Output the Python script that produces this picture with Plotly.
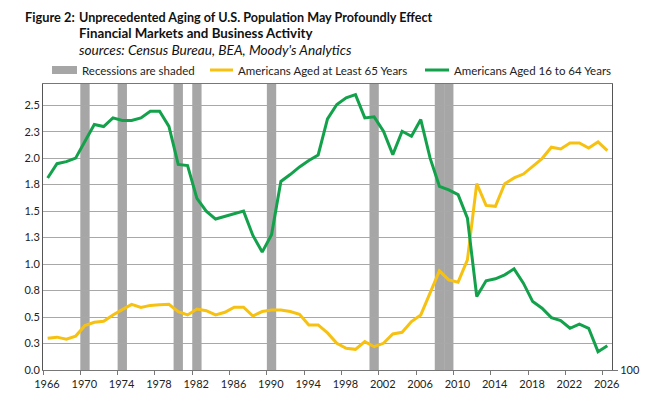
import plotly.graph_objects as go

years = list(range(1966, 2027))
age65 = [0.30, 0.31, 0.29, 0.32, 0.42, 0.45, 0.46, 0.52, 0.57, 0.62,
         0.59, 0.61, 0.615, 0.62, 0.55, 0.52, 0.575, 0.56, 0.52, 0.545,
         0.593, 0.593, 0.51, 0.552, 0.567, 0.567, 0.552, 0.526, 0.426, 0.426,
         0.35, 0.252, 0.205, 0.195, 0.268, 0.22, 0.252, 0.34, 0.356, 0.457,
         0.52, 0.725, 0.936, 0.851, 0.829, 1.04, 1.759, 1.554, 1.545, 1.759,
         1.813, 1.85, 1.923, 1.996, 2.103, 2.087, 2.144, 2.144, 2.096, 2.153,
         2.071]
age16_64 = [1.813, 1.948, 1.967, 2.0, 2.16, 2.317, 2.298, 2.38, 2.355, 2.355,
            2.38, 2.443, 2.443, 2.3, 1.94, 1.93, 1.62, 1.50, 1.425, 1.45,
            1.475, 1.50, 1.27, 1.113, 1.277, 1.78, 1.845, 1.917, 1.977, 2.03,
            2.37, 2.506, 2.57, 2.60, 2.38, 2.39, 2.254, 2.033, 2.254, 2.207,
            2.364, 2.0, 1.734, 1.70, 1.655, 1.434, 0.694, 0.842, 0.861, 0.898,
            0.955, 0.82, 0.646, 0.583, 0.495, 0.467, 0.394, 0.432, 0.394, 0.173,
            0.23]
recession_years = [1970, 1974, 1980, 1982, 1990, 2001, 2008, 2009]
ytick_vals = [0, 0.25, 0.5, 0.75, 1.0, 1.25, 1.5, 1.75, 2.0, 2.25, 2.5]
ytick_text = ["0.0", "0.3", "0.5", "0.8", "1.0", "1.3", "1.5", "1.8", "2.0", "2.3", "2.5"]
xtick_years = list(range(1966, 2027, 4))

FONT = "Lato"
GREEN = "#13a24b"
YELLOW = "#f7c112"
GRAY = "#a6a6a6"

W, H = 655, 409
ML, MR, MT, MB = 43, 43, 84, 39

xpos = [y + 0.5 for y in years]

fig = go.Figure()
for ry in recession_years:
    fig.add_vrect(x0=ry, x1=ry + 1, fillcolor=GRAY, line_width=0, layer="below", opacity=1)

fig.add_trace(go.Scatter(x=xpos, y=age65, mode="lines", line=dict(color=YELLOW, width=3),
                         name="Americans Aged at Least 65 Years", showlegend=False))
fig.add_trace(go.Scatter(x=xpos, y=age16_64, mode="lines", line=dict(color=GREEN, width=3),
                         name="Americans Aged 16 to 64 Years", showlegend=False))
fig.add_trace(go.Scatter(x=[None], y=[None], yaxis="y2", showlegend=False))

fig.update_layout(
    width=W, height=H,
    margin=dict(l=ML, r=MR, t=MT, b=MB, autoexpand=False),
    paper_bgcolor="white", plot_bgcolor="white",
    font=dict(family=FONT, size=11, color="#222"),
    xaxis=dict(range=[1966, 2027], tickvals=xtick_years, ticktext=[str(y) for y in xtick_years],
               ticks="outside", ticklen=4, tickcolor="#777", showgrid=False, ticklabelshift=4,
               showline=True, linecolor="#777", linewidth=1, mirror=True, zeroline=False),
    yaxis=dict(range=[0, 2.7], tickvals=ytick_vals, ticktext=ytick_text,
               showgrid=True, gridcolor="#a8a8a8", gridwidth=1.3, ticks="",
               showline=True, linecolor="#555", linewidth=1, mirror=True, zeroline=False),
    yaxis2=dict(range=[0, 2.7], overlaying="y", side="right", tickvals=[0], ticktext=["100"],
                ticks="outside", ticklen=5, tickcolor="#777", showgrid=False, zeroline=False,
                showline=False),
)

def px(xp):
    return (xp - ML) / (W - ML - MR)

def py(yp):
    return (H - MB - yp) / (H - MT - MB)

# Titles
fig.add_annotation(xref="paper", yref="paper", x=px(23), y=py(17), xanchor="left", yanchor="middle",
                   text="<b>Figure 2:</b>", showarrow=False, font=dict(size=12.8, family=FONT, color="#111"))
fig.add_annotation(xref="paper", yref="paper", x=px(77), y=py(17), xanchor="left", yanchor="middle",
                   text="<b>Unprecedented Aging of U.S. Population May Profoundly Effect</b>", showarrow=False,
                   font=dict(size=12.6, family=FONT, color="#111"))
fig.add_annotation(xref="paper", yref="paper", x=px(77), y=py(33.5), xanchor="left", yanchor="middle",
                   text="<b>Financial Markets and Business Activity</b>", showarrow=False,
                   font=dict(size=13.3, family=FONT, color="#111"))
fig.add_annotation(xref="paper", yref="paper", x=px(77), y=py(50), xanchor="left", yanchor="middle",
                   text="<i>sources: Census Bureau, BEA, Moody's Analytics</i>", showarrow=False,
                   font=dict(size=13.7, family=FONT, color="#111"))

# Manual legend
LY = 70
lfont = dict(size=11.5, family=FONT, color="#222")
fig.add_shape(type="rect", xref="paper", yref="paper", x0=px(52), x1=px(77), y0=py(LY + 4), y1=py(LY - 4),
              fillcolor=GRAY, line_width=0)
fig.add_annotation(xref="paper", yref="paper", x=px(80), y=py(LY), xanchor="left", yanchor="middle",
                   text="Recessions are shaded", showarrow=False, font=lfont)
fig.add_shape(type="line", xref="paper", yref="paper", x0=px(210), x1=px(233), y0=py(LY), y1=py(LY),
              line=dict(color=YELLOW, width=3))
fig.add_annotation(xref="paper", yref="paper", x=px(236), y=py(LY), xanchor="left", yanchor="middle",
                   text="Americans Aged at Least 65 Years", showarrow=False, font=lfont)
fig.add_shape(type="line", xref="paper", yref="paper", x0=px(425), x1=px(449), y0=py(LY), y1=py(LY),
              line=dict(color=GREEN, width=3))
fig.add_annotation(xref="paper", yref="paper", x=px(452), y=py(LY), xanchor="left", yanchor="middle",
                   text="Americans Aged 16 to 64 Years", showarrow=False, font=lfont)

fig.write_html("out.html", post_script="document.body.style.margin='0';",
               config={"displayModeBar": False})
